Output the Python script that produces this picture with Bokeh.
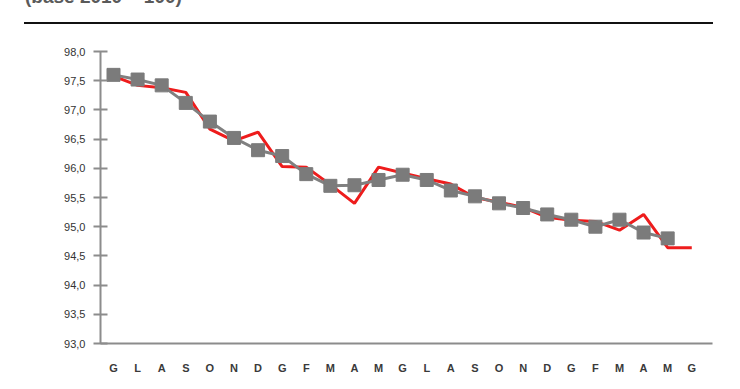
from bokeh.plotting import figure
from bokeh.models import Range1d, FixedTicker, Div
from bokeh.layouts import column
from bokeh.embed import file_html
from bokeh.resources import INLINE

months = ["G", "L", "A", "S", "O", "N", "D", "G", "F", "M", "A", "M",
          "G", "L", "A", "S", "O", "N", "D", "G", "F", "M", "A", "M", "G"]
red_series = [97.58, 97.42, 97.38, 97.30, 96.67, 96.47, 96.62, 96.03, 96.02, 95.72, 95.40, 96.02,
              95.92, 95.82, 95.73, 95.50, 95.42, 95.33, 95.16, 95.11, 95.09, 94.94, 95.21, 94.64, 94.64]
gray_series = [97.60, 97.52, 97.42, 97.12, 96.80, 96.52, 96.31, 96.21, 95.90, 95.70, 95.71, 95.80,
               95.89, 95.80, 95.62, 95.52, 95.40, 95.32, 95.21, 95.12, 95.00, 95.12, 94.90, 94.80]
y_ticks = [93.0, 93.5, 94.0, 94.5, 95.0, 95.5, 96.0, 96.5, 97.0, 97.5, 98.0]
heading = "(base 2010 = 100)"

xr = list(range(len(red_series)))
xg = list(range(len(gray_series)))

div = Div(width=740, height=26, text=(
    '<div style="position:relative;width:740px;height:26px;">'
    '<div style="position:absolute;left:25px;top:-17px;font-family:Liberation Sans,Arial,sans-serif;'
    'font-weight:bold;font-size:19px;color:#5a5a5a;white-space:nowrap;">' + heading + '</div>'
    '<div style="position:absolute;left:24px;top:22px;width:689px;height:2px;background:#111111;"></div>'
    '</div>'), margin=(0, 0, 0, 0))

p = figure(width=740, height=363, output_backend="svg", toolbar_location=None,
           x_range=Range1d(-0.54, 24.86), y_range=Range1d(93, 98),
           min_border_left=100, min_border_right=28, min_border_top=25, min_border_bottom=46,
           margin=(0, 0, 0, 0))
p.outline_line_color = None
p.grid.visible = False
p.background_fill_color = "white"

p.line(xr, red_series, line_color="#ee1c1c", line_width=3)
p.line(xg, gray_series, line_color="#808080", line_width=3)
p.scatter(xg, gray_series, marker="square", size=13, fill_color="#7b7b7b", line_color="#7b7b7b")

ya = p.yaxis[0]
ya.ticker = FixedTicker(ticks=y_ticks)
ya.major_label_overrides = {t: ("%.1f" % t).replace(".", ",") for t in y_ticks}
ya.axis_line_color = "#8c8c8c"
ya.axis_line_width = 2
ya.major_tick_line_color = "#8c8c8c"
ya.major_tick_line_width = 2
ya.major_tick_in = 7
ya.major_tick_out = 7
ya.minor_tick_line_color = None
ya.major_label_text_font = "Liberation Sans"
ya.major_label_text_font_size = "11px"
ya.major_label_text_color = "#333333"
ya.major_label_standoff = 8

xa = p.xaxis[0]
xa.ticker = FixedTicker(ticks=xr)
xa.major_label_overrides = {i: m for i, m in enumerate(months)}
xa.axis_line_color = "#8c8c8c"
xa.axis_line_width = 2
xa.major_tick_line_color = None
xa.minor_tick_line_color = None
xa.major_label_text_font = "Liberation Sans"
xa.major_label_text_font_style = "bold"
xa.major_label_text_font_size = "11px"
xa.major_label_text_color = "#3a3a3a"
xa.major_label_standoff = 12

layout = column(div, p, spacing=0)
open("out.html", "w").write(file_html(layout, INLINE))
